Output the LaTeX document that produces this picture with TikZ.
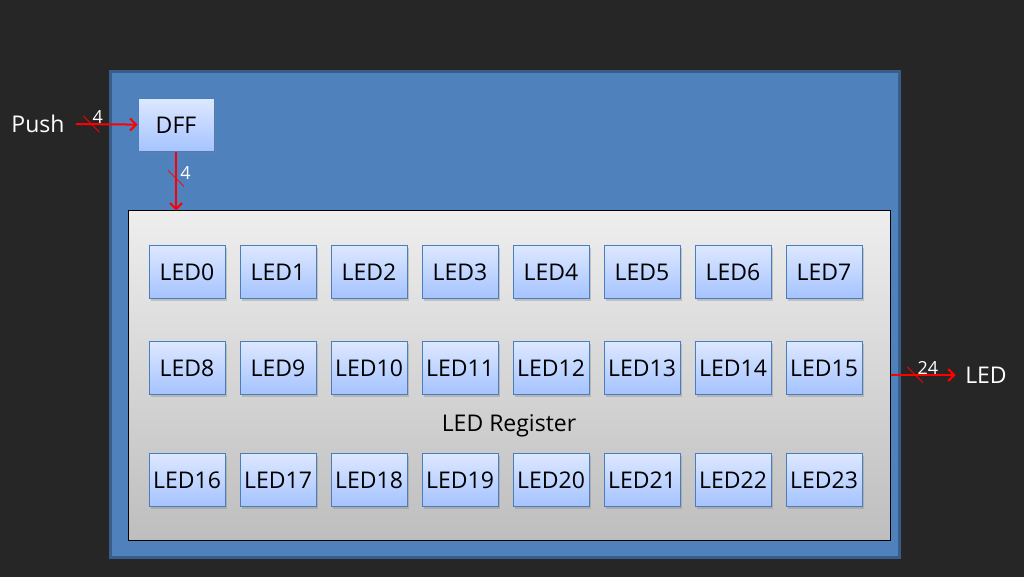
\documentclass[tikz,border=0pt]{standalone}
\usepackage{fontspec}
\setmainfont{Open Sans}
\usetikzlibrary{arrows.meta,positioning,shadows}
\definecolor{bgdark}{HTML}{262626}
\definecolor{topfill}{HTML}{4F81BD}
\definecolor{topline}{HTML}{385D8A}
\definecolor{regtop}{HTML}{EEEEEE}
\definecolor{regbot}{HTML}{BEBEBE}
\definecolor{ledtop}{HTML}{DDE8FF}
\definecolor{ledbot}{HTML}{A5C3FF}
\definecolor{ledline}{HTML}{4A7EBB}

\begin{document}
\begin{tikzpicture}[x=1pt,y=-1pt,>={Straight Barb[length=6pt,width=12pt]},semithick]
		\tikzstyle{ledbox}=[draw=ledline, line width=1pt, top color=ledtop, bottom color=ledbot,
			minimum width=76pt, minimum height=53pt, inner sep=0pt,
			font=\fontsize{23}{26}\selectfont,
			drop shadow={shadow xshift=1.5pt, shadow yshift=-2pt, opacity=0.35}]
		\tikzstyle{outtext}=[text=white, font=\fontsize{23}{26}\selectfont]
		\tikzstyle{bus}=[red, line width=2pt]
		\tikzstyle{busmark}=[red, line width=0.8pt]
		\tikzstyle{buslabel}=[text=white, inner sep=1pt, font=\fontsize{18}{20}\selectfont]

		\fill[bgdark] (0,0) rectangle (1024,577);
		\useasboundingbox (0,0) rectangle (1024,577);

		% outer block
		\node[draw=topline, line width=3pt, fill=topfill, minimum width=789pt, minimum height=485pt] (top) at (504.5,314.5) {};

		% register with its 24 leds
		\node[draw=black, line width=1pt, top color=regtop, bottom color=regbot,
			minimum width=762pt, minimum height=329pt] (reg) at (509,375.5) {};
		\node[font=\fontsize{23}{26}\selectfont] (regname) at (509,426) {LED Register};
		\foreach \r/\y in {0/272,1/368,2/480}
			\foreach \c in {0,...,7}
			{
				\pgfmathtruncatemacro{\n}{8*\r+\c}
				\node[ledbox] (led\n) at (187+91*\c,\y) {LED\n};
			}

		\node[ledbox] (dff) at (176,125) {DFF};
		\node[outtext] (push) at (38,124) {Push};
		\node[outtext] (led) at (986,375) {LED};
		\coordinate (regin) at (reg.north -| dff);
		\coordinate (regout) at (reg.east |- 0,375);

		% buses
		\draw[bus,->] (push) ++(38,0) -- coordinate[pos=0.25] (m1) (dff);
		\draw[bus,->] (dff) -- coordinate[pos=0.45] (m2) (regin);
		\draw[bus,->] (regout) -- coordinate[pos=0.38] (m3) ++(65,0);

		\foreach \m in {m1,m2,m3}
			\draw[busmark] ([shift={(-8,-8)}]\m) -- ([shift={(8,8)}]\m);
		\node[buslabel, above right=-1pt and 0pt of m1] {4};
		\node[buslabel, above right=-2pt and 3pt of m2] {4};
		\node[buslabel, above right=-1pt and 1pt of m3] {24};
	\end{tikzpicture}
\end{document}
